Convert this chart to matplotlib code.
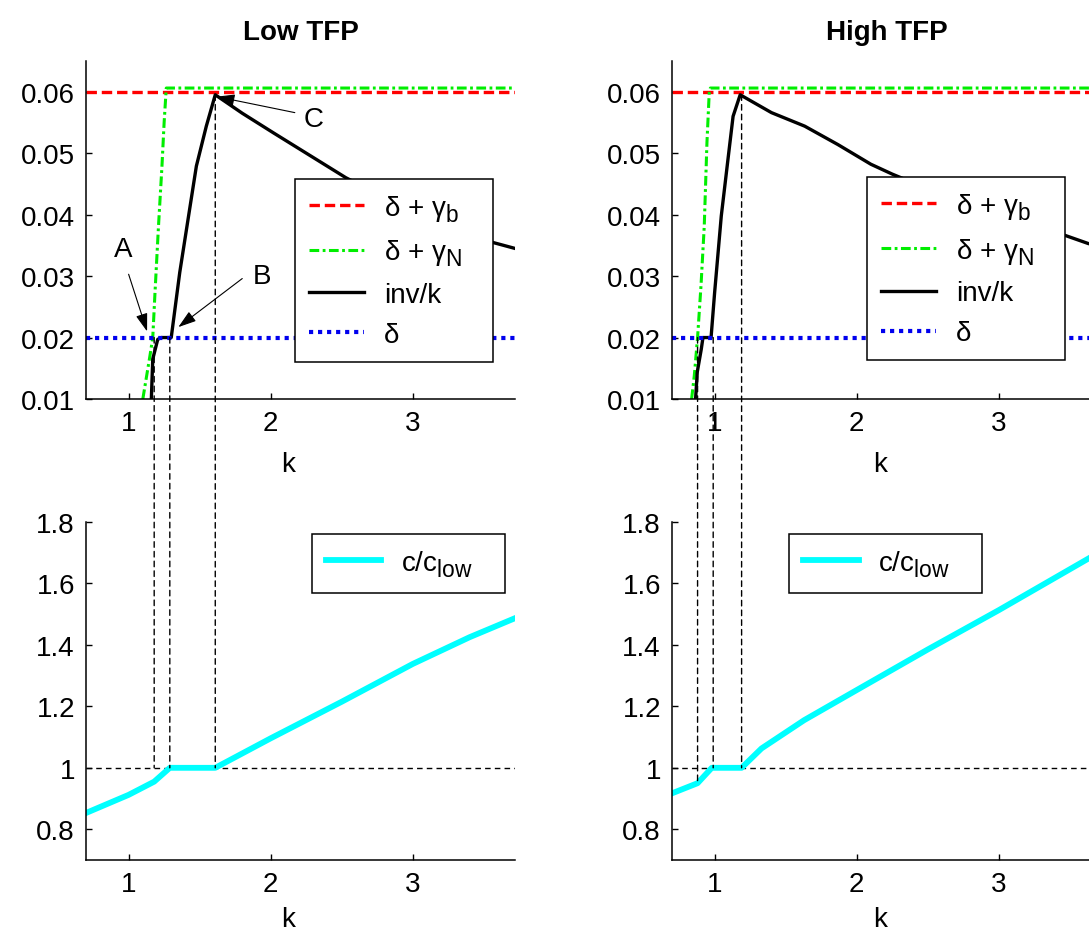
import matplotlib
matplotlib.use("Agg")
import matplotlib.pyplot as plt
from matplotlib.patches import ConnectionPatch

# bigger, lower subscripts like the original figure
try:
    import matplotlib._mathtext as _mt
    _mt.SHRINK_FACTOR = 0.82
    _mt.FontConstantsBase.sub1 = 0.45
    _mt.FontConstantsBase.sub2 = 0.55
except Exception:
    pass

plt.rcParams["font.family"] = ["Liberation Sans", "DejaVu Sans"]
plt.rcParams["font.size"] = 20
plt.rcParams["mathtext.fontset"] = "custom"
plt.rcParams["mathtext.rm"] = "Liberation Sans"
plt.rcParams["mathtext.it"] = "Liberation Sans:italic"
plt.rcParams["lines.scale_dashes"] = False

# ---- data ----
titles = ["Low TFP", "High TFP"]
delta = 0.02
delta_gb = 0.06

# Low TFP
low_gn_k = [1.10, 1.15, 1.17, 1.185, 1.21, 1.235, 1.25, 1.265, 1.28, 3.72]
low_gn_y = [0.01, 0.017, 0.02, 0.027, 0.038, 0.048, 0.055, 0.0606, 0.0606, 0.0606]
low_inv_k = [1.16, 1.17, 1.205, 1.23, 1.30, 1.36, 1.477, 1.547, 1.61,
             1.8, 2.02, 2.53, 2.8, 3.1, 3.35, 3.56, 3.72]
low_inv_y = [0.01, 0.0165, 0.0197, 0.02, 0.02, 0.0306, 0.0479, 0.0544, 0.0595,
             0.0565, 0.0533, 0.0460, 0.0428, 0.0398, 0.0374, 0.0355, 0.0345]
low_c_k = [0.70, 1.0, 1.18, 1.29, 1.61, 2.0, 2.5, 3.0, 3.4, 3.72]
low_c_y = [0.853, 0.912, 0.955, 1.0, 1.0, 1.096, 1.215, 1.338, 1.425, 1.487]
low_mark_k = [1.18, 1.29, 1.61]
low_mark_top = [0.02, 0.02, 0.0595]
low_mark_bot = [1.0, 1.0, 1.0]

# High TFP
high_gn_k = [0.838, 0.857, 0.88, 0.904, 0.927, 0.946, 0.962, 0.97, 3.72]
high_gn_y = [0.01, 0.0138, 0.02, 0.0284, 0.0381, 0.0517, 0.0598, 0.0606, 0.0606]
high_inv_k = [0.866, 0.878, 0.906, 0.918, 0.975, 1.0, 1.047, 1.094, 1.13, 1.18,
              1.40, 1.634, 1.868, 2.10, 2.25, 2.5, 2.8, 3.1, 3.47, 3.63, 3.72]
high_inv_y = [0.01, 0.0144, 0.0181, 0.02, 0.02, 0.0273, 0.0398, 0.049, 0.056, 0.0595,
              0.0566, 0.0544, 0.0514, 0.0482, 0.0466, 0.0442, 0.0413, 0.0390, 0.0366, 0.0353, 0.0348]
high_c_k = [0.70, 0.88, 0.98, 1.19, 1.33, 1.63, 2.0, 2.5, 3.0, 3.65, 3.72]
high_c_y = [0.917, 0.95, 1.0, 1.0, 1.063, 1.155, 1.253, 1.385, 1.513, 1.686, 1.70]
high_mark_k = [0.88, 0.99, 1.19]
high_mark_top = [0.02, 0.02, 0.0595]
high_mark_bot = [0.95, 1.0, 1.0]

top_yticks = [0.01, 0.02, 0.03, 0.04, 0.05, 0.06]
top_ylabels = ["0.01", "0.02", "0.03", "0.04", "0.05", "0.06"]
bot_yticks = [0.8, 1.0, 1.2, 1.4, 1.6, 1.8]
bot_ylabels = ["0.8", "1", "1.2", "1.4", "1.6", "1.8"]
xticks = [1, 2, 3]
xlabels = ["1", "2", "3"]

W, H = 1089, 937
fig = plt.figure(figsize=(W / 100, H / 100), dpi=100)


def px_axes(x0, y0, x1, y1):
    return fig.add_axes([x0 / W, (H - y1) / H, (x1 - x0) / W, (y1 - y0) / H])


def style(ax, ylim, yt, yl):
    ax.set_xlim(0.7, 3.72)
    ax.set_ylim(*ylim)
    ax.set_xticks(xticks)
    ax.set_xticklabels(xlabels)
    ax.set_yticks(yt)
    ax.set_yticklabels(yl)
    ax.spines["top"].set_visible(False)
    ax.spines["right"].set_visible(False)
    for s in ("left", "bottom"):
        ax.spines[s].set_linewidth(1.1)
    ax.tick_params(direction="in", length=4, width=1, pad=8, labelsize=20)
    ax.set_xlabel("k", fontsize=20)


def column(x0, title, gn_k, gn_y, inv_k, inv_y, c_k, c_y, mk, mtop, mbot,
           leg_top, leg_bot, label_x, arrows):
    ax1 = px_axes(x0, 62, x0 + 429, 400)
    ax2 = px_axes(x0, 523, x0 + 429, 861)
    style(ax1, (0.01, 0.065), top_yticks, top_ylabels)
    style(ax2, (0.7, 1.8), bot_yticks, bot_ylabels)
    ax1.xaxis.set_label_coords(label_x, -0.155)
    ax2.xaxis.set_label_coords(label_x, -0.135)
    ax1.set_title(title, fontsize=20, fontweight="bold", pad=16)

    ax1.axhline(delta_gb, color="red", lw=2.4, ls=(0, (7.5, 3.5)), label="δ + γ$_{\\mathrm{b}}$")
    ax1.plot(gn_k, gn_y, color="#00ee00", lw=2.2, ls=(0, (7, 2.5, 2, 2.5)),
             label="δ + γ$_{\\mathrm{N}}$")
    ax1.plot(inv_k, inv_y, color="black", lw=2.4, label="inv/k")
    ax1.axhline(delta, color="#0000ee", lw=3.0, ls=(0, (3, 3.5)), label="δ")

    leg = ax1.legend(loc="upper left", bbox_to_anchor=(leg_top[0], leg_top[1] - 0.5, 0.4615, 0.5),
                     mode="expand", borderaxespad=0,
                     fancybox=False, edgecolor="black", framealpha=1,
                     handlelength=2.0, handletextpad=0.7, labelspacing=0.5,
                     borderpad=0.5, fontsize=20)
    leg.get_frame().set_linewidth(1.1)

    ax2.axhline(1.0, color="black", lw=1.0, ls=(0, (4, 3)))
    ax2.plot(c_k, c_y, color="cyan", lw=4.2, label="c/c$_{\\mathrm{low}}$")
    leg2 = ax2.legend(loc="upper left", bbox_to_anchor=(leg_bot[0], leg_bot[1] - 0.2, 0.45, 0.2),
                      mode="expand", borderaxespad=0,
                      fancybox=False, edgecolor="black", framealpha=1,
                      handlelength=2.0, handletextpad=0.7, borderpad=0.5,
                      fontsize=20)
    leg2.get_frame().set_linewidth(1.1)

    for k, yt, yb in zip(mk, mtop, mbot):
        con = ConnectionPatch(xyA=(k, yt), coordsA=ax1.transData,
                              xyB=(k, yb), coordsB=ax2.transData,
                              color="black", lw=1.0, ls=(0, (4, 3)))
        fig.add_artist(con)

    for txt, tpos, tail, head in arrows:
        ax1.text(tpos[0], tpos[1], txt, fontsize=20, ha="center", va="center")
        ax1.annotate("", xy=head, xytext=tail,
                     arrowprops=dict(arrowstyle="-|>,head_length=1.1,head_width=0.36",
                                     mutation_scale=10, color="black", lw=0.8,
                                     shrinkA=0, shrinkB=0))


low_arrows = [
    ("A", (0.96, 0.0344), (1.0, 0.0303), (1.13, 0.021)),
    ("B", (1.94, 0.0300), (1.80, 0.0296), (1.35, 0.0217)),
    ("C", (2.30, 0.0555), (2.17, 0.0566), (1.62, 0.0592)),
]

column(86, titles[0], low_gn_k, low_gn_y, low_inv_k, low_inv_y, low_c_k, low_c_y,
       low_mark_k, low_mark_top, low_mark_bot, (0.487, 0.651), (0.526, 0.964), 0.47,
       low_arrows)
column(672, titles[1], high_gn_k, high_gn_y, high_inv_k, high_inv_y, high_c_k, high_c_y,
       high_mark_k, high_mark_top, high_mark_bot, (0.454, 0.656), (0.273, 0.964), 0.485,
       [])

fig.savefig("out.png", dpi=100)
